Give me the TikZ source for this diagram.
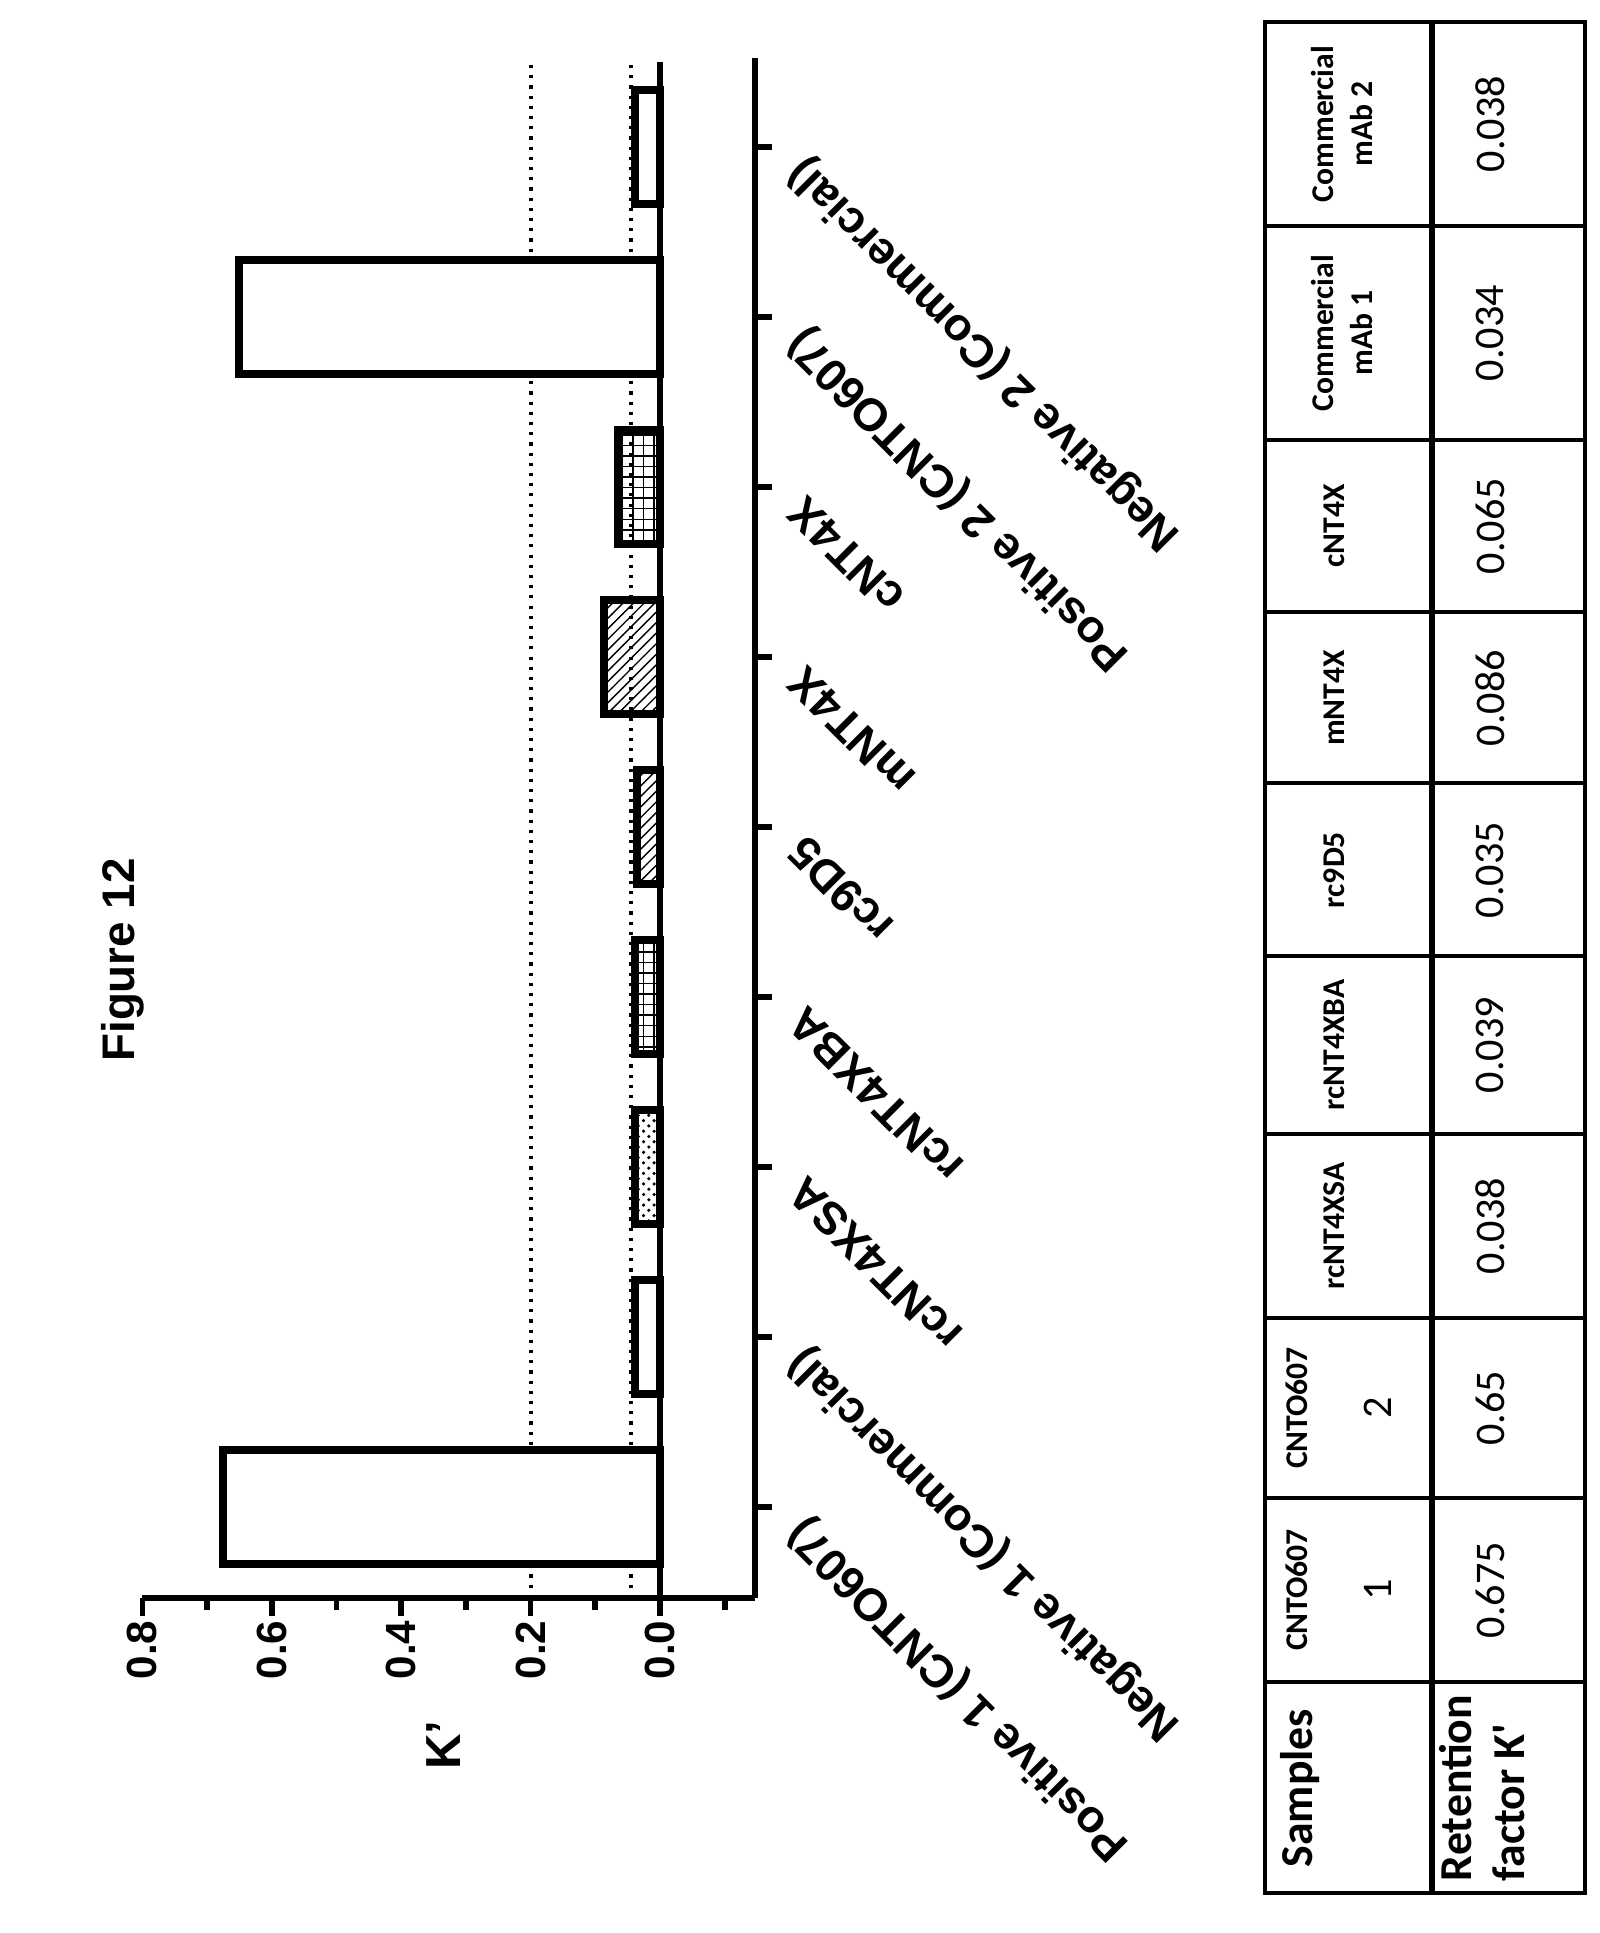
\documentclass[tikz,border=0pt]{standalone}
\usepackage{fontspec}
\setmainfont{Liberation Sans}
\newfontfamily\tabfont{Carlito}
\usetikzlibrary{patterns}
\begin{document}
\begin{tikzpicture}[x=0.01cm,y=-0.01cm,
  bar/.style={draw,line width=2.3pt,fill=white},
  ax/.style={line width=1.6pt},
  dotl/.style={dotted,line width=0.9pt},
  cat/.style={font=\bfseries\fontsize{13}{15}\selectfont,rotate=135,anchor=east,inner sep=1pt},
  tkl/.style={font=\bfseries\fontsize{12}{14}\selectfont,rotate=90},
  tb/.style={line width=1pt},
  th/.style={font=\tabfont\bfseries\fontsize{9}{11}\selectfont,rotate=90},
  tv/.style={font=\tabfont\fontsize{12}{14}\selectfont,rotate=90},
  tbig/.style={font=\tabfont\bfseries\fontsize{13}{15}\selectfont,rotate=90,align=left}]
\useasboundingbox (0,0) rectangle (1600,1933);
\node[tkl,font=\bfseries\fontsize{13}{15}\selectfont] (fig) at (123,960) {Figure 12};
% dotted reference lines
\draw[dotl] (531,65) -- (531,1598);
\draw[dotl] (631,65) -- (631,1598);
% bars
\def\bw{57}
\draw[bar] (660,1507-\bw) rectangle (223,1507+\bw);
\draw[bar] (660,1337-\bw) rectangle (635,1337+\bw);
\draw[bar,pattern=crosshatch dots] (660,1167-\bw) rectangle (635,1167+\bw);
\draw[bar,pattern=grid] (660,997-\bw) rectangle (635,997+\bw);
\draw[bar,pattern=north east lines] (660,827-\bw) rectangle (637,827+\bw);
\draw[bar,pattern=north east lines] (660,657-\bw) rectangle (604,657+\bw);
\draw[bar,pattern=grid] (660,487-\bw) rectangle (618,487+\bw);
\draw[bar] (660,317-\bw) rectangle (239,317+\bw);
\draw[bar] (660,147-\bw) rectangle (635,147+\bw);
% baseline
\draw[ax] (660,62) -- (660,1598);
% value axis
\draw[ax] (142,1598) -- (755,1598);
\foreach \v/\l in {0.8/0.8,0.6/0.6,0.4/0.4,0.2/0.2,0/0.0}{
  \draw[ax] ({660-647*\v},1598) -- ({660-647*\v},1616);
  \node[tkl] (t\l) at ({660-647*\v},1650) {\l};}
\foreach \v in {0.7,0.5,0.3,0.1,-0.1}
  \draw[ax] ({660-647*\v},1598) -- ({660-647*\v},1610);
\node[tkl,font=\bfseries\fontsize{14}{16}\selectfont] (kp) at (444,1745) {K'};
% category axis
\draw[ax] (755,58) -- (755,1598);
\foreach \i/\t in {0/Positive 1 (CNTO607),1/Negative 1 (Commercial),2/rcNT4XSA,3/rcNT4XBA,4/rc9D5,5/mNT4X,6/cNT4X,7/Positive 2 (CNTO607),8/Negative 2 (Commercial)}{
  \draw[ax] (755,{1507-170*\i}) -- (772,{1507-170*\i});
  \node[cat] (c\i) at (793,{1522-170*\i}) {\t};}
% table
\draw[tb] (1265,22) rectangle (1585,1893);
\draw[line width=1.8pt] (1432,22) -- (1432,1893);
\foreach \y in {226,440,612,783,956,1134,1318,1498,1682}
  \draw[tb] (1265,\y) -- (1585,\y);
\node[tbig] (s) at (1300,1788) {Samples};
\node[tbig] (r) at (1482,1788) {Retention\\factor K'};
\node[th] (h1a) at (1297,1590) {CNTO607}; \node[tv] (h1b) at (1378,1590) {1};
\node[th] (h2a) at (1297,1408) {CNTO607}; \node[tv] (h2b) at (1378,1408) {2};
\node[th] (h3) at (1334,1226) {rcNT4XSA};
\node[th] (h4) at (1334,1045) {rcNT4XBA};
\node[th] (h5) at (1334,870) {rc9D5};
\node[th] (h6) at (1334,698) {mNT4X};
\node[th] (h7) at (1334,526) {cNT4X};
\node[th,align=center] (h8) at (1342,333) {Commercial\\mAb 1};
\node[th,align=center] (h9) at (1342,124) {Commercial\\mAb 2};
\foreach \y/\v in {1590/0.675,1408/0.65,1226/0.038,1045/0.039,870/0.035,698/0.086,526/0.065,333/0.034,124/0.038}
  \node[tv] at (1490,\y) {\v};
\end{tikzpicture}
\end{document}
